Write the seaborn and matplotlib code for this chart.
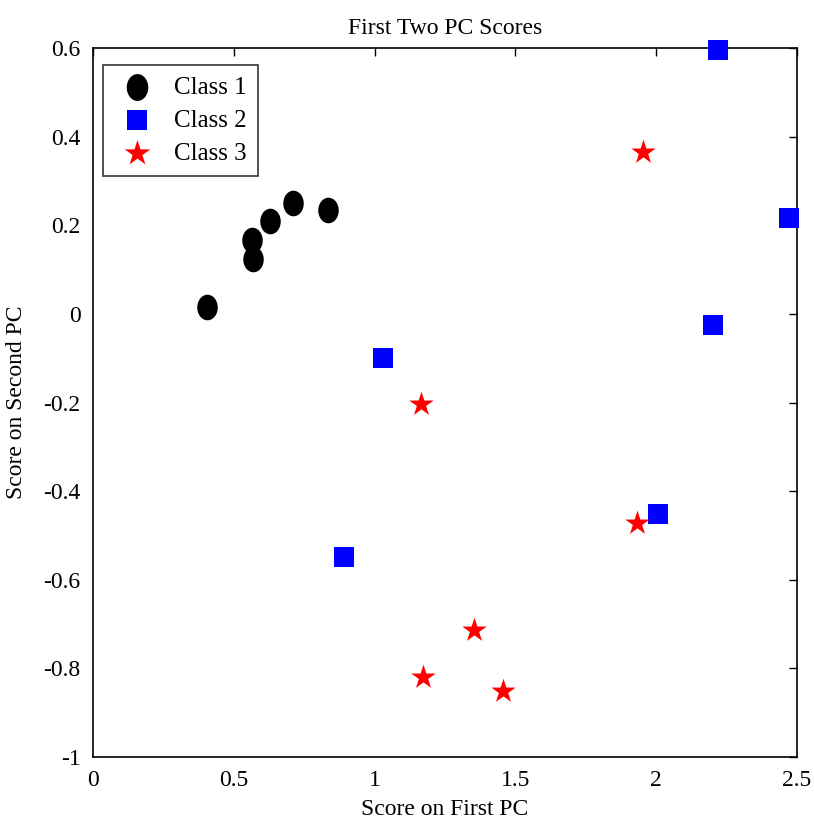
import numpy as np
import pandas as pd
import matplotlib
matplotlib.use("Agg")
import matplotlib.pyplot as plt
from matplotlib.path import Path
from matplotlib.transforms import Affine2D
import seaborn as sns

# Data
class1_x = [0.405, 0.565, 0.568, 0.629, 0.710, 0.835]
class1_y = [0.015, 0.167, 0.124, 0.210, 0.250, 0.234]
class2_x = [2.219, 2.472, 2.202, 1.030, 2.006, 0.891]
class2_y = [0.595, 0.216, -0.025, -0.100, -0.452, -0.549]
class3_x = [1.953, 1.165, 1.932, 1.353, 1.172, 1.456]
class3_y = [0.365, -0.203, -0.472, -0.713, -0.820, -0.851]
classes = ["Class 1", "Class 2", "Class 3"]
xticks = [0, 0.5, 1, 1.5, 2, 2.5]
xticklabels = ["0", "0.5", "1", "1.5", "2", "2.5"]
yticks = [-1, -0.8, -0.6, -0.4, -0.2, 0, 0.2, 0.4, 0.6]
yticklabels = ["-1", "-0.8", "-0.6", "-0.4", "-0.2", "0", "0.2", "0.4", "0.6"]

df = pd.DataFrame({
    "x": class1_x + class2_x + class3_x,
    "y": class1_y + class2_y + class3_y,
    "cls": [classes[0]] * len(class1_x) + [classes[1]] * len(class2_x) + [classes[2]] * len(class3_x),
})

sns.set_style("white")
plt.rcParams["font.family"] = ["Liberation Serif", "DejaVu Serif"]
plt.rcParams["text.color"] = "black"
plt.rcParams["axes.labelcolor"] = "black"

fig = plt.figure(figsize=(8.14, 8.33), dpi=100)
ax = fig.add_axes([0.1143, 0.0912, 0.8649, 0.8512])

ellipse = Path.unit_circle().transformed(Affine2D().scale(0.8, 1.0))

palette = {classes[0]: "black", classes[1]: "#0000ff", classes[2]: "#ff0000"}
markers = {classes[0]: ellipse, classes[1]: "s", classes[2]: "*"}
sizes = {classes[0]: 340, classes[1]: 200, classes[2]: 340}

for c in classes:
    sub = df[df["cls"] == c]
    sns.scatterplot(data=sub, x="x", y="y", color=palette[c], marker=markers[c],
                    s=sizes[c], linewidth=0, ax=ax, label=c, clip_on=False, zorder=3)

ax.set_xlim(0, 2.5)
ax.set_ylim(-1, 0.6)
ax.set_xticks(xticks)
ax.set_xticklabels(xticklabels)
ax.set_yticks(yticks)
ax.set_yticklabels(yticklabels)
ax.tick_params(direction="in", length=6, width=1, top=True, right=True,
               labelsize=17, pad=9, colors="black")
for s in ax.spines.values():
    s.set_visible(True)
    s.set_color("black")
    s.set_linewidth(1.2)

ax.set_title("First Two PC Scores", fontsize=17, pad=10, color="black")
ax.set_xlabel("Score on First PC", fontsize=17, labelpad=6, color="black")
ax.set_ylabel("Score on Second PC", fontsize=17, labelpad=12, color="black")

leg = ax.legend(loc="upper left", bbox_to_anchor=(0.0142, 0.976), borderaxespad=0,
                fontsize=18, frameon=True, fancybox=False, edgecolor="black",
                handletextpad=0.6, borderpad=0.45, labelspacing=0.42,
                markerscale=1.05, handlelength=1.8)
leg.get_frame().set_linewidth(1.2)
for t in leg.get_texts():
    t.set_color("black")

fig.savefig("out.png", dpi=100)
